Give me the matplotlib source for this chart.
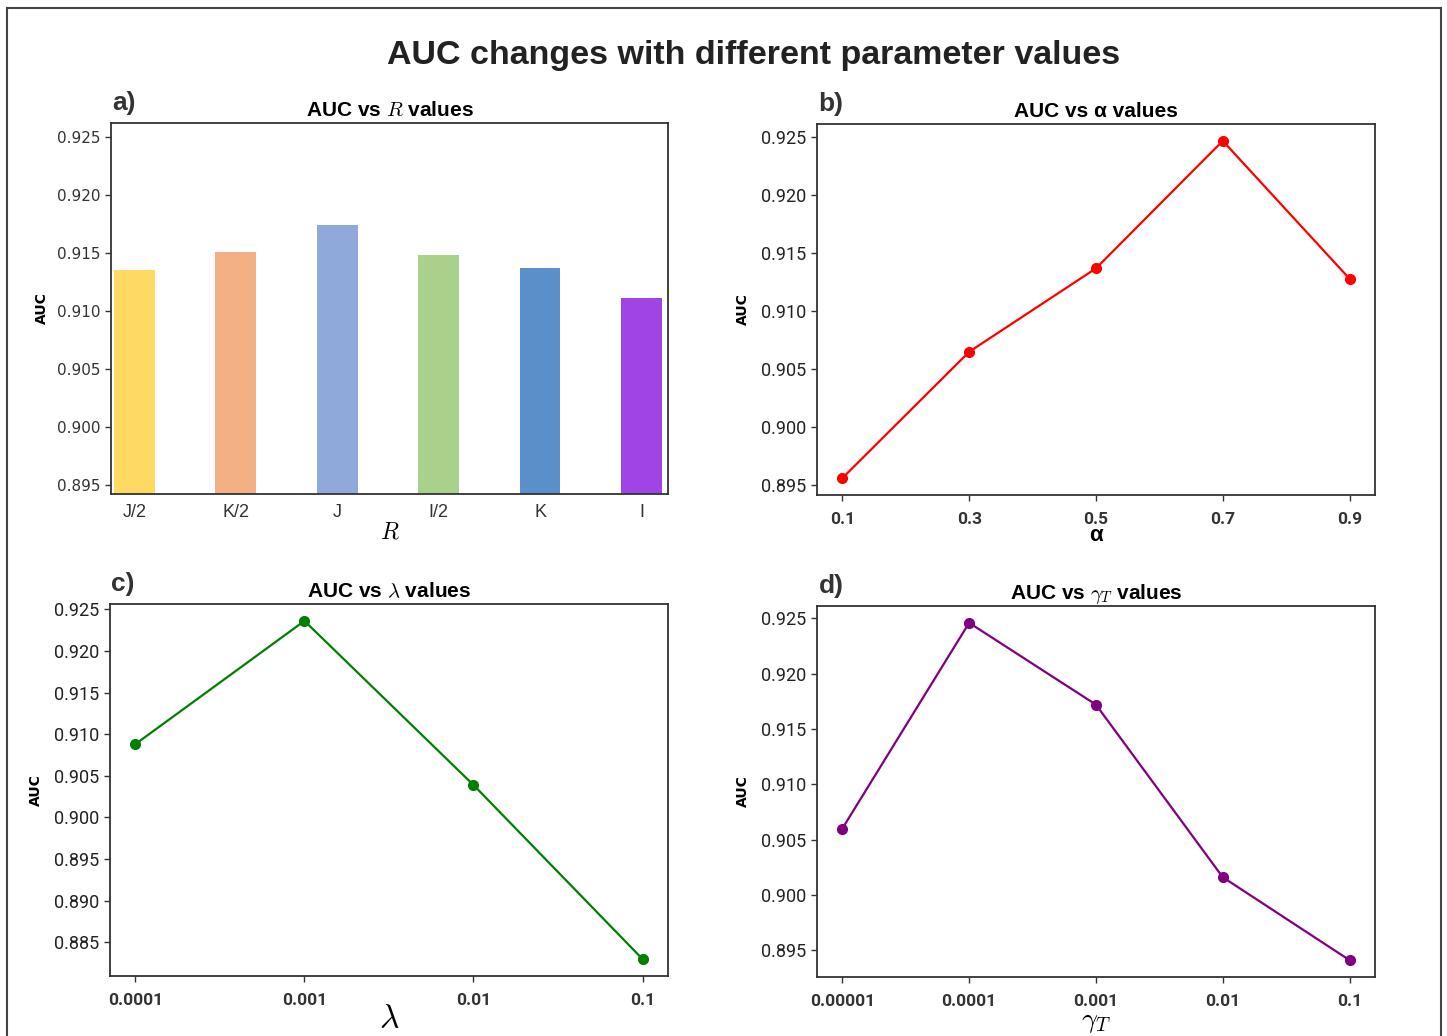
import matplotlib
matplotlib.use("Agg")
import matplotlib.pyplot as plt
from matplotlib.patches import Rectangle

plt.rcParams['mathtext.fontset'] = 'cm'

# AUC vs R (bar chart)
r_labels = ['J/2', 'K/2', 'J', 'I/2', 'K', 'I']
r_auc = [0.9135, 0.9151, 0.9174, 0.9148, 0.9137, 0.9111]
r_colors = ['#FED964', '#F3B084', '#8FAADA', '#A9D18C', '#5B8FCA', '#A044E6']

# AUC vs alpha
alpha_vals = [0.1, 0.3, 0.5, 0.7, 0.9]
alpha_auc = [0.8956, 0.9065, 0.9137, 0.9247, 0.9128]

# AUC vs lambda
lambda_labels = ['0.0001', '0.001', '0.01', '0.1']
lambda_auc = [0.9088, 0.9236, 0.9039, 0.8830]

# AUC vs gamma_T
gamma_labels = ['0.00001', '0.0001', '0.001', '0.01', '0.1']
gamma_auc = [0.9060, 0.9246, 0.9172, 0.9016, 0.8941]

narrow = ['Liberation Sans Narrow', 'Roboto', 'DejaVu Sans']
arial = ['Liberation Sans', 'DejaVu Sans']
spine_col = '#333333'

fig = plt.figure(figsize=(14.47, 10.36), dpi=100)

# outer frame
fig.patches.append(Rectangle((7 / 1447, -0.01), 1434 / 1447, 1.01 - 8 / 1036,
                             transform=fig.transFigure, fill=False,
                             edgecolor='#444444', linewidth=1.5))

fig.text(0.521, 0.946, 'AUC changes with different parameter values',
         ha='center', va='center', fontsize=24.5, fontweight='bold',
         family=arial, color='#222222')

ax_a = fig.add_axes([0.0767, 0.5232, 0.3849, 0.3581])
ax_b = fig.add_axes([0.5646, 0.5222, 0.3856, 0.3581])
ax_c = fig.add_axes([0.0760, 0.0579, 0.3856, 0.3591])
ax_d = fig.add_axes([0.5646, 0.0569, 0.3856, 0.3582])


def style(ax):
    for s in ax.spines.values():
        s.set_color(spine_col)
        s.set_linewidth(1.3)
    ax.tick_params(colors=spine_col, length=4, width=1)


# a) bars
x = range(len(r_labels))
ax_a.bar(x, [v - 0.88 for v in r_auc], bottom=0.88, width=0.4, color=r_colors)
ax_a.set_xlim(-0.23, 5.26)
ax_a.set_ylim(0.89422, 0.92621)
ax_a.set_yticks([0.895, 0.900, 0.905, 0.910, 0.915, 0.920, 0.925])
ax_a.set_xticks(list(x))
ax_a.set_xticklabels(r_labels, family=arial, fontsize=13, color='#333333')
for lb in ax_a.get_yticklabels():
    lb.set_family('DejaVu Sans')
    lb.set_fontsize(11)
    lb.set_color('#333333')
style(ax_a)
ax_a.tick_params(axis='x', length=0, pad=7)
ax_a.set_title('AUC vs $R$ values', fontsize=15, fontweight='bold', family=arial, pad=5)
ax_a.set_xlabel('$R$', fontsize=17, labelpad=-1)
ax_a.set_ylabel('AUC', fontsize=10, fontweight='bold', family='DejaVu Sans', labelpad=6)

# b) alpha
ax_b.plot(alpha_vals, alpha_auc, color='red', marker='o', markersize=7, linewidth=1.6)
ax_b.set_xticks(alpha_vals)
ax_b.set_xticklabels(['0.1', '0.3', '0.5', '0.7', '0.9'])
ax_b.set_title('AUC vs α values', fontsize=15, fontweight='bold', family=arial, pad=5)
ax_b.set_xlabel('α', fontsize=16, fontweight='bold', family=arial, labelpad=-1)

# c) lambda
ax_c.plot(range(len(lambda_labels)), lambda_auc, color='green', marker='o',
          markersize=7, linewidth=1.6)
ax_c.set_xticks(range(len(lambda_labels)))
ax_c.set_xticklabels(lambda_labels)
ax_c.set_title(r'AUC vs $\lambda$ values', fontsize=15, fontweight='bold', family=arial, pad=5)
ax_c.set_xlabel(r'$\lambda$', fontsize=24, labelpad=-4)

# d) gamma_T
ax_d.plot(range(len(gamma_labels)), gamma_auc, color='purple', marker='o',
          markersize=7, linewidth=1.6)
ax_d.set_xticks(range(len(gamma_labels)))
ax_d.set_xticklabels(gamma_labels)
ax_d.set_title(r'AUC vs $\gamma_T$ values', fontsize=15, fontweight='bold', family=arial, pad=5)
ax_d.set_xlabel(r'$\gamma_T$', fontsize=20, labelpad=-1)

for ax in (ax_b, ax_c, ax_d):
    style(ax)
    ax.set_ylabel('AUC', fontsize=10, fontweight='bold', family='DejaVu Sans', labelpad=8)
    for lb in ax.get_yticklabels():
        lb.set_family(narrow)
        lb.set_fontsize(13)
        lb.set_color('#222222')
    for lb in ax.get_xticklabels():
        lb.set_family(narrow)
        lb.set_fontsize(12.5)
        lb.set_fontweight('bold')
        lb.set_color('#333333')
    ax.tick_params(axis='x', pad=8)

# panel letters
for ax, letter in ((ax_a, 'a)'), (ax_b, 'b)'), (ax_c, 'c)'), (ax_d, 'd)')):
    pos = ax.get_position()
    fig.text(pos.x0 + 0.001, pos.y1 + 0.008, letter, fontsize=19, fontweight='bold',
             family=arial, color='#333333', ha='left', va='bottom')

fig.savefig('out.png', dpi=100, facecolor='white')
